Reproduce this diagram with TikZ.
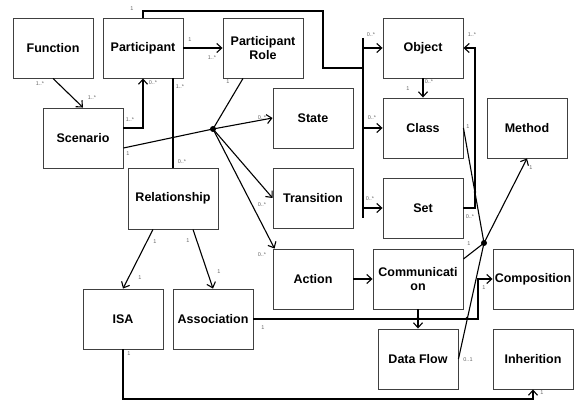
\documentclass[tikz,border=0pt]{standalone}
\usepackage{fontspec}
\setmainfont{Liberation Sans}
\usepackage{xcolor}
\usepackage{tikz}
\usetikzlibrary{positioning,arrows.meta}

\begin{document}
\begin{tikzpicture}[x=1pt,y=-1pt,
  box/.style={draw=black!75,line width=0.9pt,minimum width=80pt,minimum height=60pt,
    align=center,inner sep=1pt,font=\fontsize{12.5}{14}\selectfont\bfseries},
  wide/.style={minimum width=90pt},
  conn/.style={line width=1.1pt,black},
  arr/.style={conn,-{Straight Barb[length=5pt,width=9pt,line width=1.1pt]}},
  mult/.style={text=black!60,font=\fontsize{5.5}{6}\selectfont,inner sep=0pt},
  dot/.style={fill=black}]
\useasboundingbox (0,0) rectangle (574,403);
\node[box] (function) at (53,48) {Function};
\node[box] (participant) at (143,48) {Participant};
\node[box] (prole) at (263,48) {Participant\\Role};
\node[box] (object) at (423,48) {Object};
\node[box] (klass) at (423,128) {Class};
\node[box] (method) at (527,128) {Method};
\node[box] (scenario) at (83,138) {Scenario};
\node[box] (state) at (313,118) {State};
\node[box] (transition) at (313,198) {Transition};
\node[box] (set) at (423,208) {Set};
\node[box,wide,minimum height=61pt] (relationship) at (173,198.5) {Relationship};
\node[box] (action) at (313,279) {Action};
\node[box,wide] (comm) at (418,279) {Communicati\\on};
\node[box] (composition) at (533,279) {Composition};
\node[box] (isa) at (123,319) {ISA};
\node[box] (association) at (213,319) {Association};
\node[box] (dataflow) at (418,359) {Data Flow};
\node[box] (inherit) at (533,359) {Inherition};

\coordinate (j1) at (213,129);
\coordinate (j2) at (484,243);
\coordinate (topc) at (323,11);
\coordinate (busc) at (363,68);
\coordinate (bus1) at (363,38);
\coordinate (bus2) at (363,218);
\coordinate (rbus) at (475,130);
\coordinate (acomp) at (478,300);
\coordinate (bottom) at (300,399);

\draw[arr] (function.south) -- (scenario.north);
\draw[arr] ([yshift=10pt]scenario.east) -| (participant.south);
\draw[arr] (participant.east) -- (prole.west);
\draw[conn] (participant.north) |- (topc) |- (busc);
\draw[conn] (bus1) -- (bus2);
\draw[arr] (object.west -| bus1) -- (object.west);
\draw[arr] (klass.west -| bus1) -- (klass.west);
\draw[arr] (set.west -| bus1) -- (set.west);
\draw[conn] ([xshift=30pt]participant.south) -- (relationship.north);
\draw[conn] ([yshift=-10pt]scenario.east) -- (j1);
\draw[conn] ([xshift=-20pt]prole.south) -- (j1);
\fill[dot] (j1) circle (3pt);
\fill[dot] (173,137.4) circle (1.3pt);
\draw[arr] (j1) -- (state.west);
\draw[arr] (j1) -- (transition.west);
\draw[arr] (j1) -- ([xshift=2pt]action.north west);
\draw[arr] ([xshift=-20pt]relationship.south) -- (isa.north);
\draw[arr] ([xshift=20pt]relationship.south) -- (association.north);
\draw[arr] (object.south) -- (klass.north);
\draw[arr] (action.east) -- (comm.west);
\draw[arr] (comm.south) -- (dataflow.north);
\draw[arr] (set.east) -| (rbus) |- (object.east);
\draw[arr] (association.east) -| (acomp) |- (composition.west);
\draw[conn] (klass.east) -- (j2);
\draw[conn] ([yshift=20pt]comm.east) -- (j2);
\draw[conn] (dataflow.east) -- (j2);
\draw[arr] (j2) -- (method.south);
\fill[dot] (j2) circle (3pt);
\fill[dot] (475,192) circle (1.3pt);
\fill[dot] (467,318) circle (1.3pt);
\fill[dot] (418,318) circle (1.3pt);
\draw[arr] (isa.south) |- (bottom) -| (inherit.south);

\node[mult] at (132,9) {1};
\node[mult] at (40,84) {1..*};
\node[mult] at (92,98) {1..*};
\node[mult] at (130,120) {1..*};
\node[mult] at (153,83) {0..*};
\node[mult] at (190,40) {1};
\node[mult] at (212,58) {1..*};
\node[mult] at (180,87) {1..*};
\node[mult] at (182,162) {0..*};
\node[mult] at (228,82) {1};
\node[mult] at (128,154) {1};
\node[mult] at (262,118) {0..*};
\node[mult] at (262,205) {0..*};
\node[mult] at (262,255) {0..*};
\node[mult] at (155,242) {1};
\node[mult] at (140,278) {1};
\node[mult] at (188,241) {1};
\node[mult] at (219,272) {1};
\node[mult] at (371,35) {0..*};
\node[mult] at (372,118) {0..*};
\node[mult] at (370,199) {0..*};
\node[mult] at (429,82) {0..*};
\node[mult] at (408,89) {1};
\node[mult] at (472,35) {1..*};
\node[mult] at (468,127) {1};
\node[mult] at (470,217) {0..*};
\node[mult] at (469,244) {1};
\node[mult] at (531,168) {1};
\node[mult] at (484,288) {1};
\node[mult] at (468,360) {0..1};
\node[mult] at (263,328) {1};
\node[mult] at (129,354) {1};
\node[mult] at (542,393) {1};
\end{tikzpicture}
\end{document}
